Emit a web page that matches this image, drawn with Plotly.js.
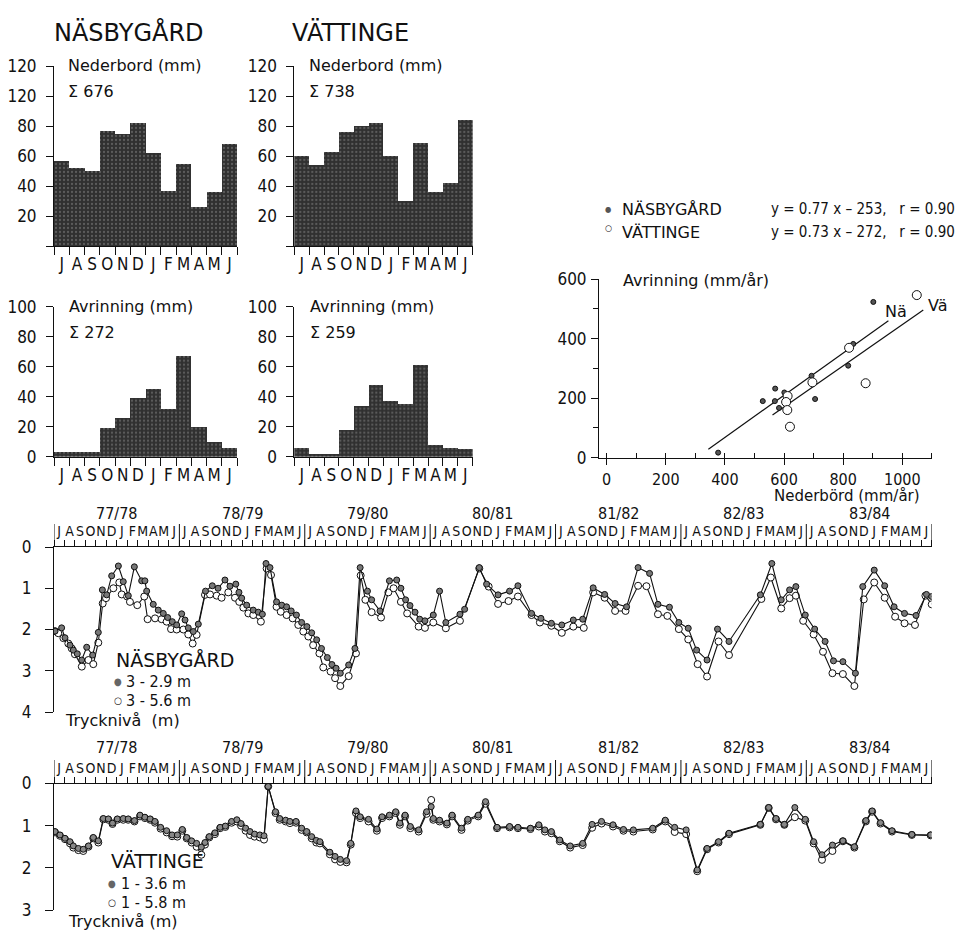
<!DOCTYPE html>
<html><head><meta charset="utf-8">
<script src="https://cdn.plot.ly/plotly-3.0.1.min.js"></script>
<style>html,body{margin:0;padding:0;background:#fff}</style>
</head><body><div id="chart" style="width:956px;height:932px"></div>
<script>
// ---------- DATA ----------
const monthLetters = ['J','A','S','O','N','D','J','F','M','A','M','J'];
const nasNederbord = [57,52,50,77,75,82,62,37,55,26,36,68];
const vatNederbord = [60,54,63,76,80,82,60,30,69,36,42,84];
const nasAvrinning = [3,3,3,19,26,39,45,32,67,20,10,6];
const vatAvrinning = [6,2,2,18,34,48,37,35,61,8,6,5];

// scatter: yearly precipitation vs runoff (mm/år)
const nasNed = [902,834,817,693,705,601,570,528,569,583,377];
const nasAvr = [523,382,309,275,197,219,232,190,190,167,17];
const vatNed = [1049,820,696,876,612,607,611,620];
const vatAvr = [546,369,253,250,207,187,160,104];
const nasLineX = [344,953], nasLineY = [28,460];
const vatLineX = [561,1071], vatLineY = [143,496];

// time series: months since 1 July 1977, pressure level (m)
const yearLabels = ['77/78','78/79','79/80','80/81','81/82','82/83','83/84'];

const nasFillM = [0.1,0.73,1.05,1.53,1.85,2.23,2.65,3.13,3.7,4.24,4.63,5.04,5.52,6.16,6.63,7.11,7.69,8.39,8.7,8.87,9.5,9.98,10.46,10.88,11.32,11.74,12.22,12.54,12.85,13.33,13.81,14.5,15.15,15.7,16.36,16.84,17.4,17.7,17.96,18.44,19.07,19.55,19.94,20.29,20.67,21.3,21.8,22.26,22.7,23.2,23.7,24.2,24.66,25.14,25.6,26.16,26.6,27.0,27.4,28.2,28.8,29.3,30.0,30.4,31.2,32.1,32.8,33.2,33.65,34.07,34.55,35.0,35.5,36.3,36.9,37.5,38.85,39.3,40.7,41.4,42.5,43.6,44.4,45.7,46.6,47.6,48.6,49.7,50.6,51.6,52.7,53.7,54.8,55.9,57.0,57.8,58.9,59.8,60.7,61.5,62.5,63.5,64.6,67.6,68.7,69.6,70.4,71.0,71.9,72.8,73.8,74.6,75.5,76.7,77.4,78.5,79.5,80.4,81.4,82.5,83.5,84.0];
const nasFillD = [2.04,1.96,2.2,2.38,2.5,2.59,2.74,2.43,2.62,2.07,1.04,1.16,0.7,0.46,0.84,1.18,0.48,0.82,0.82,1.07,1.39,1.53,1.61,1.71,1.81,1.89,1.62,1.77,1.96,2.05,1.87,1.07,0.94,1.0,0.8,0.95,0.9,1.1,1.24,1.41,1.53,1.58,1.63,0.4,0.5,1.33,1.41,1.45,1.55,1.65,1.83,1.93,2.08,2.25,2.46,2.68,2.85,2.94,3.06,2.86,2.46,0.5,1.07,1.28,1.55,0.82,0.8,1.0,1.28,1.42,1.58,1.75,1.79,1.65,1.07,1.83,1.63,1.51,0.5,0.9,1.16,1.07,0.94,1.61,1.73,1.85,1.89,1.77,1.75,0.99,1.15,1.37,1.45,0.5,0.64,1.39,1.46,1.83,1.97,2.5,2.74,1.99,2.29,1.16,0.4,1.28,1.04,0.96,1.65,1.99,2.29,2.76,2.78,3.06,0.96,0.56,0.94,1.45,1.61,1.66,1.15,1.2];

const nasOpenM = [0.1,0.41,0.9,1.37,1.7,2.0,2.66,3.29,3.76,4.24,4.66,4.98,5.68,6.25,6.48,7.0,7.27,7.97,8.64,8.96,9.67,10.3,10.78,11.2,11.74,12.38,12.85,13.27,13.65,14.45,14.93,15.57,16.04,16.68,17.32,17.73,18.12,18.6,19.07,19.8,20.35,20.77,21.3,21.7,22.26,22.84,23.38,23.86,24.34,24.8,25.4,25.77,26.47,26.9,27.4,28.2,28.9,29.35,29.8,30.4,31.3,32.0,32.5,33.2,33.8,34.9,35.5,36.3,37.5,38.85,40.7,41.6,42.5,43.5,44.4,45.7,46.5,47.6,48.6,49.7,50.7,51.6,52.7,53.7,54.7,55.9,56.7,57.8,58.7,59.8,60.7,61.6,62.5,63.6,64.6,67.7,68.6,69.6,70.4,71.0,71.7,72.7,73.6,74.5,75.5,76.6,77.5,78.5,79.5,80.5,81.4,82.4,83.4,84.0];
const nasOpenD = [2.04,2.09,2.21,2.34,2.46,2.6,2.9,2.74,2.84,2.32,1.37,1.24,1.0,0.86,1.15,1.2,1.33,1.41,1.2,1.75,1.73,1.75,1.81,1.99,2.0,2.0,2.12,2.34,2.13,1.16,1.15,1.18,1.23,1.1,1.23,1.33,1.47,1.61,1.65,1.81,0.52,0.68,1.45,1.57,1.65,1.73,1.89,2.05,2.17,2.38,2.58,2.92,3.02,3.18,3.37,3.13,2.58,0.69,1.28,1.58,1.71,1.1,1.0,1.33,1.61,1.93,1.96,1.83,1.97,1.79,0.52,0.96,1.38,1.31,1.2,1.65,1.83,1.91,2.08,1.93,1.96,1.1,1.23,1.55,1.55,0.94,0.95,1.63,1.67,1.99,2.24,2.84,3.14,2.29,2.62,1.26,0.74,1.49,1.24,1.18,1.79,2.12,2.54,3.06,3.08,3.37,1.27,0.86,1.23,1.69,1.85,1.89,1.18,1.39];

const vatM = [0.1,0.57,1.05,1.53,1.85,2.33,2.8,3.3,3.76,4.24,4.72,5.2,5.6,6.06,6.63,7.1,7.7,8.23,8.7,9.2,9.66,10.2,10.78,11.3,11.8,12.28,12.7,13.17,13.65,14.1,14.45,14.86,15.4,15.9,16.4,17.0,17.5,17.9,18.34,18.76,19.2,19.7,20.1,20.5,21.2,21.6,22.17,22.58,23.16,23.7,24.18,24.66,25.1,25.45,26.4,26.9,27.4,28.0,28.4,28.9,29.3,30.1,30.9,31.4,32.1,32.7,33.1,33.6,34.1,34.9,35.66,36.1,36.3,36.9,37.6,38.1,39.0,39.6,40.6,41.3,42.4,43.6,44.4,45.6,46.4,46.98,47.6,48.4,49.4,50.6,51.5,52.4,53.5,54.5,55.45,57.3,58.5,59.4,60.5,61.56,62.5,63.6,64.6,67.6,68.4,69.1,69.9,70.9,71.9,72.7,73.5,74.5,75.5,76.6,77.7,78.3,79.1,80.2,82.1,83.9];
const vatFillD = [1.14,1.22,1.3,1.38,1.48,1.54,1.56,1.48,1.28,1.36,0.83,0.84,0.94,0.84,0.83,0.84,0.88,0.75,0.8,0.84,0.9,1.04,1.12,1.22,1.22,1.09,1.28,1.36,1.42,1.51,1.4,1.26,1.17,1.04,1.01,0.9,0.86,0.95,1.06,1.14,1.2,1.22,1.24,0.07,0.67,0.83,0.87,0.9,0.9,1.06,1.14,1.26,1.35,1.38,1.63,1.73,1.8,1.83,1.42,0.65,0.79,0.85,1.08,0.79,0.75,0.67,0.94,0.75,1.02,1.1,0.67,0.55,0.83,0.87,0.94,0.75,1.06,0.85,0.75,0.43,1.04,1.02,1.04,1.06,0.98,1.1,1.14,1.34,1.48,1.42,0.97,0.9,0.98,1.09,1.1,1.06,0.87,1.04,1.1,2.05,1.54,1.38,1.18,0.97,0.57,0.83,0.97,0.57,0.85,1.38,1.69,1.46,1.36,1.5,0.88,0.65,0.93,1.12,1.21,1.22];
const vatOpenD = [1.16,1.24,1.32,1.42,1.52,1.58,1.6,1.5,1.3,1.4,0.85,0.86,0.96,0.86,0.86,0.86,0.9,0.78,0.82,0.86,0.93,1.07,1.16,1.25,1.26,1.12,1.3,1.4,1.5,1.69,1.45,1.28,1.2,1.06,1.03,0.93,0.9,1.0,1.12,1.22,1.26,1.28,1.33,0.07,0.7,0.86,0.9,0.94,0.93,1.1,1.16,1.3,1.4,1.42,1.68,1.8,1.86,1.87,1.45,0.7,0.82,0.9,1.12,0.82,0.78,0.7,0.98,0.78,1.06,1.14,0.72,0.39,0.86,0.9,0.97,0.78,1.1,0.88,0.78,0.48,1.06,1.04,1.06,1.08,1.02,1.14,1.18,1.37,1.52,1.46,1.05,0.95,1.02,1.12,1.14,1.09,0.9,1.15,1.2,2.08,1.56,1.4,1.2,0.98,0.58,0.85,0.98,0.8,0.88,1.42,1.81,1.6,1.37,1.52,0.9,0.67,0.95,1.14,1.22,1.23];

// ---------- LAYOUT HELPERS ----------
const W = 956, H = 932;
const fx = p => p / W;
const fy = p => 1 - p / H;
const FONT = 'DejaVu Sans Condensed, DejaVu Sans, sans-serif';
const WIDE = 'DejaVu Sans, sans-serif';
const INK = '#111';
const monthIdx = monthLetters.map((_, i) => i);
const tsTickVals = [], tsTickText = [];
yearLabels.forEach((_, y) => monthLetters.forEach((l, i) => { tsTickVals.push(12 * y + i + 0.5); tsTickText.push(l); }));
const yearBounds = [0].concat(yearLabels.map((_, i) => 12 * (i + 1)));

function txt(text, x, y, size, opts) {
  return Object.assign({text: text, x: fx(x), y: fy(y), xref: 'paper', yref: 'paper',
    xanchor: 'left', yanchor: 'middle', showarrow: false,
    font: {family: FONT, size: size, color: INK}}, opts || {});
}
function wtxt(text, x, y, size, opts) {
  return txt(text, x, y, size, Object.assign({font: {family: WIDE, size: size, color: INK}}, opts || {}));
}

function barX(dom) {
  return {domain: dom, range: [-0.5, 11.5], tickmode: 'array', tickvals: monthIdx, ticktext: monthLetters,
    ticks: '', showline: true, linecolor: INK, linewidth: 1, showgrid: false, zeroline: false,
    tickfont: {family: FONT, size: 17, color: INK}, ticklabelstandoff: 3,
    minor: {tickmode: 'linear', tick0: -0.5, dtick: 1, ticks: 'outside', ticklen: 8, tickcolor: INK, tickwidth: 1}};
}
function barY(dom, max, vals, text) {
  return {domain: dom, range: [0, max], tickmode: 'array', tickvals: vals, ticktext: text,
    ticks: 'outside', ticklen: 7, tickcolor: INK, showline: true, linecolor: INK, linewidth: 1,
    showgrid: false, zeroline: false, tickfont: {family: FONT, size: 17, color: INK}, ticklabelstandoff: 6};
}
function tsX(dom) {
  return {domain: dom, range: [0, 84], side: 'top', tickmode: 'array', tickvals: tsTickVals, ticktext: tsTickText,
    ticks: '', showline: true, linecolor: INK, linewidth: 1, showgrid: false, zeroline: false,
    tickfont: {family: FONT, size: 14, color: INK}, ticklabelstandoff: 4, tickangle: 0,
    minor: {tickmode: 'linear', tick0: 0, dtick: 1, ticks: 'outside', ticklen: 6, tickcolor: INK, tickwidth: 1}};
}
function tsY(dom, max) {
  const v = []; for (let i = 0; i <= max; i++) v.push(i);
  return {domain: dom, range: [max, 0], tickmode: 'array', tickvals: v, ticks: 'outside', ticklen: 8,
    tickcolor: INK, showline: true, linecolor: INK, linewidth: 1, showgrid: false, zeroline: false,
    tickfont: {family: FONT, size: 17, color: INK}, ticklabelstandoff: 10};
}

const barMarker = {color: '#333', line: {width: 0},
  pattern: {shape: '.', bgcolor: '#303030', fgcolor: '#5c5c5c', size: 4, solidity: 0.25}};
const data = [
  {type: 'bar', x: monthIdx, y: nasNederbord, xaxis: 'x', yaxis: 'y', marker: barMarker, width: 1},
  {type: 'bar', x: monthIdx, y: vatNederbord, xaxis: 'x2', yaxis: 'y2', marker: barMarker, width: 1},
  {type: 'bar', x: monthIdx, y: nasAvrinning, xaxis: 'x3', yaxis: 'y3', marker: barMarker, width: 1},
  {type: 'bar', x: monthIdx, y: vatAvrinning, xaxis: 'x4', yaxis: 'y4', marker: barMarker, width: 1},
  {type: 'scatter', mode: 'lines', x: nasLineX, y: nasLineY, xaxis: 'x5', yaxis: 'y5', line: {color: INK, width: 1.2}},
  {type: 'scatter', mode: 'lines', x: vatLineX, y: vatLineY, xaxis: 'x5', yaxis: 'y5', line: {color: INK, width: 1.2}},
  {type: 'scatter', mode: 'markers', x: nasNed, y: nasAvr, xaxis: 'x5', yaxis: 'y5',
    marker: {size: 5, color: '#555', line: {color: INK, width: 1}}},
  {type: 'scatter', mode: 'markers', x: vatNed, y: vatAvr, xaxis: 'x5', yaxis: 'y5',
    marker: {size: 9, color: '#fff', line: {color: INK, width: 1}}},
  {type: 'scatter', mode: 'lines+markers', x: nasOpenM, y: nasOpenD, xaxis: 'x6', yaxis: 'y6',
    line: {color: INK, width: 1.1}, marker: {size: 7, color: '#fff', line: {color: INK, width: 1}}},
  {type: 'scatter', mode: 'lines+markers', x: nasFillM, y: nasFillD, xaxis: 'x6', yaxis: 'y6',
    line: {color: INK, width: 1.1}, marker: {size: 6, color: '#777', line: {color: INK, width: 1}}},
  {type: 'scatter', mode: 'lines+markers', x: vatM, y: vatOpenD, xaxis: 'x7', yaxis: 'y7',
    line: {color: INK, width: 1.1}, marker: {size: 7, color: '#fff', line: {color: INK, width: 1}}},
  {type: 'scatter', mode: 'lines+markers', x: vatM, y: vatFillD, xaxis: 'x7', yaxis: 'y7',
    line: {color: INK, width: 1.1}, marker: {size: 6, color: '#888', line: {color: INK, width: 1}}}
];

const TITLEFONT = 'DejaVu Sans, sans-serif';
const annotations = [
  txt('NÄSBYGÅRD', 52, 33, 24, {font: {family: TITLEFONT, size: 24, color: INK}}),
  txt('VÄTTINGE', 290, 33, 24, {font: {family: TITLEFONT, size: 24, color: INK}}),
  wtxt('Nederbord (mm)', 66, 66, 16), wtxt('Σ 676', 66, 91, 16),
  wtxt('Nederbord (mm)', 307, 66, 16), wtxt('Σ 738', 307, 91, 16),
  wtxt('Avrinning (mm)', 67, 307, 16), wtxt('Σ 272', 67, 332, 16),
  wtxt('Avrinning (mm)', 308, 307, 16), wtxt('Σ 259', 308, 332, 16),
  txt('●', 608, 209, 8, {xanchor: 'center', font: {family: FONT, size: 8, color: '#555'}}),
  txt('○', 608, 228, 9, {xanchor: 'center'}),
  wtxt('NÄSBYGÅRD', 620, 209, 16), wtxt('VÄTTINGE', 620, 232, 16),
  txt('y = 0.77 x – 253,   r = 0.90', 769, 209, 15),
  txt('y = 0.73 x – 272,   r = 0.90', 769, 232, 15),
  wtxt('Avrinning (mm/år)', 621, 280, 16),
  wtxt('Nederbörd (mm/år)', 922, 496, 15, {xanchor: 'right'}),
  wtxt('Nä', 896, 311, 16, {xanchor: 'center'}),
  wtxt('Vä', 938, 305, 16, {xanchor: 'center'}),
  txt('NÄSBYGÅRD', 114, 660, 19, {font: {family: TITLEFONT, size: 19, color: INK}}),
  txt('●', 118, 681, 10, {xanchor: 'center', font: {family: FONT, size: 10, color: '#666'}}),
  txt('3 - 2.9 m', 124, 681, 16),
  txt('○', 118, 700, 10, {xanchor: 'center'}),
  txt('3 - 5.6 m', 124, 700, 16),
  wtxt('Trycknivå  (m)', 63, 720, 16),
  txt('VÄTTINGE', 109, 861, 19, {font: {family: TITLEFONT, size: 19, color: INK}}),
  txt('●', 112, 883, 10, {xanchor: 'center', font: {family: FONT, size: 10, color: '#666'}}),
  txt('1 - 3.6 m', 119, 883, 16),
  txt('○', 112, 902, 10, {xanchor: 'center'}),
  txt('1 - 5.8 m', 119, 902, 16),
  wtxt('Trycknivå (m)', 66, 921, 16)
];
yearLabels.forEach((lab, i) => {
  [['x6', 513], ['x7', 747]].forEach(([ax, py]) => {
    annotations.push({text: lab, x: 12 * i + 6, xref: ax, y: fy(py), yref: 'paper', xanchor: 'center', yanchor: 'middle',
      showarrow: false, font: {family: FONT, size: 16, color: INK}});
  });
});

const shapes = [];
yearBounds.forEach(b => {
  [['x6', 547, 524], ['x7', 783.5, 760]].forEach(([ax, y0, y1]) => {
    shapes.push({type: 'line', xref: ax, yref: 'paper', x0: b, x1: b, y0: fy(y0), y1: fy(y1), line: {color: INK, width: 1}});
  });
});

const layout = {
  width: W, height: H, margin: {l: 0, r: 0, t: 0, b: 0}, paper_bgcolor: '#fff', plot_bgcolor: 'rgba(0,0,0,0)',
  showlegend: false, bargap: 0,
  xaxis: barX([fx(54), fx(237)]), yaxis: barY([fy(246), fy(66)], 120, [0,20,40,60,80,100,120], ['','20','40','60','80','120','120']),
  xaxis2: barX([fx(294.3), fx(472.7)]), yaxis2: barY([fy(246), fy(66)], 120, [0,20,40,60,80,100,120], ['','20','40','60','80','120','120']),
  xaxis3: barX([fx(54), fx(237)]), yaxis3: barY([fy(456.7), fy(306.7)], 100, [0,20,40,60,80,100], ['0','20','40','60','80','100']),
  xaxis4: barX([fx(294.3), fx(472.7)]), yaxis4: barY([fy(456.7), fy(306.7)], 100, [0,20,40,60,80,100], ['0','20','40','60','80','100']),
  xaxis5: {domain: [fx(599), fx(932)], range: [-26, 1100.5], tickmode: 'array', tickvals: [0,200,400,600,800,1000],
    ticks: 'outside', ticklen: 6, tickcolor: INK, showline: true, linecolor: INK, showgrid: false, zeroline: false,
    tickfont: {family: FONT, size: 16, color: INK}, ticklabelstandoff: 1,
    minor: {tickmode: 'linear', tick0: 0, dtick: 100, ticks: 'inside', ticklen: 5, tickcolor: INK}},
  yaxis5: {domain: [fy(457.7), fy(279)], range: [0, 600], tickmode: 'array', tickvals: [0,200,400,600],
    ticks: 'outside', ticklen: 7, tickcolor: INK, showline: true, linecolor: INK, showgrid: false, zeroline: false,
    tickfont: {family: FONT, size: 17, color: INK}, ticklabelstandoff: 1,
    minor: {tickmode: 'linear', tick0: 0, dtick: 100, ticks: 'outside', ticklen: 5, tickcolor: INK}},
  xaxis6: tsX([fx(54), fx(931.7)]), yaxis6: tsY([fy(712), fy(547)], 4),
  xaxis7: tsX([fx(54), fx(931.7)]), yaxis7: tsY([fy(910), fy(783.5)], 3),
  annotations: annotations, shapes: shapes
};
['', '2', '3', '4', '5', '6', '7'].forEach(s => { layout['xaxis' + s].anchor = 'y' + s; layout['yaxis' + s].anchor = 'x' + s; });

Plotly.newPlot('chart', data, layout, {staticPlot: true});
</script></body></html>
